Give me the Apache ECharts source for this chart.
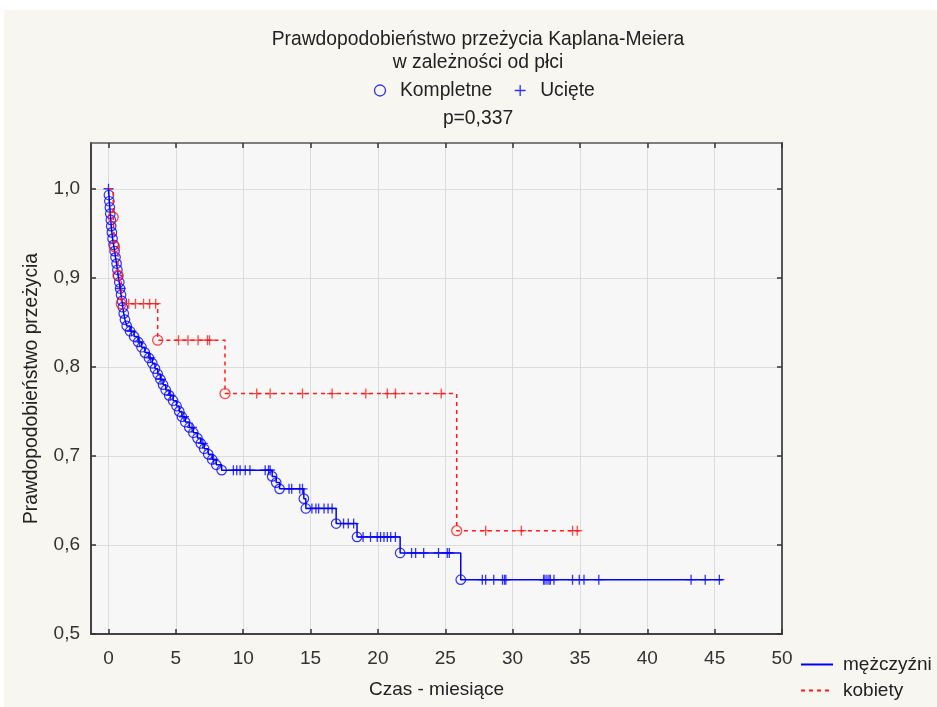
<!DOCTYPE html>
<html><head><meta charset="utf-8">
<script src="https://cdn.jsdelivr.net/npm/echarts@6/dist/echarts.min.js"></script>
<style>
html,body{margin:0;padding:0;background:#fff;}
#bg{position:absolute;left:4px;top:10px;width:933px;height:697px;background:#f7f6f0;}
#chart{position:absolute;left:0;top:0;width:937px;height:707px;}
</style>
</head><body><div id="bg"></div><div id="chart"></div>
<script>
// ---- data ----
const xTicks = [0, 5, 10, 15, 20, 25, 30, 35, 40, 45, 50];
const yTicks = [0.5, 0.6, 0.7, 0.8, 0.9, 1.0];

// mężczyźni: event (complete) times and survival after each event
const maleEventTimes = [0.03,0.06,0.1,0.13,0.17,0.2,0.25,0.3,0.38,0.45,0.52,0.6,0.66,0.72,0.8,0.86,0.93,1.0,1.06,1.13,1.22,1.35,1.6,1.9,2.2,2.45,2.7,3.0,3.25,3.45,3.65,3.85,4.05,4.25,4.5,4.8,5.05,5.25,5.45,5.7,6.0,6.3,6.6,6.85,7.1,7.4,7.7,8.0,8.4,12.15,12.45,12.7,14.5,14.65,16.9,18.45,21.65,26.15];
const maleEventSurv = [0.993,0.986,0.979,0.972,0.965,0.958,0.951,0.944,0.937,0.930,0.923,0.916,0.909,0.902,0.895,0.888,0.881,0.874,0.867,0.860,0.853,0.846,0.840,0.834,0.828,0.822,0.816,0.810,0.804,0.798,0.792,0.786,0.780,0.774,0.768,0.762,0.756,0.750,0.744,0.738,0.732,0.726,0.720,0.714,0.708,0.702,0.696,0.690,0.684,0.677,0.670,0.663,0.652,0.641,0.624,0.609,0.591,0.561];
const maleCensorTimes = [0.0,0.9,1.7,2.3,3.1,3.9,4.6,5.6,6.2,7.0,7.8,9.27,9.52,9.77,10.15,10.5,11.63,11.88,12.0,13.4,13.6,14.2,14.4,15.1,15.4,15.6,16.0,16.3,16.6,17.45,17.8,18.2,18.9,19.45,19.95,20.2,20.45,20.7,20.95,21.3,22.5,22.8,23.4,24.5,25.15,25.3,27.75,28.0,28.6,29.25,29.4,29.5,32.3,32.4,32.55,32.7,32.8,33.07,34.45,34.95,35.3,36.4,43.25,44.3,45.35];
const maleEndTime = 45.6;

// kobiety
const femaleEventTimes = [0.35,0.45,0.7,0.95,3.65,8.65,25.85];
const femaleEventSurv = [0.968,0.935,0.903,0.871,0.830,0.770,0.616];
const femaleCensorTimes = [1.5,2.0,2.6,3.05,3.5,5.2,5.9,6.65,7.35,7.5,11.0,12.0,14.4,16.6,19.1,20.7,21.3,24.7,28.0,30.65,34.45,34.8];
const femaleEndTime = 35.0;

const titleLines = ['Prawdopodobieństwo przeżycia Kaplana-Meiera', 'w zależności od płci'];
const pValueText = 'p=0,337';

// ---- helpers ----
function survAt(times, surv, t) {
  let s = 1;
  for (let i = 0; i < times.length; i++) if (times[i] <= t) s = surv[i];
  return s;
}
function stepLine(times, surv, end) {
  const d = [[0, 1]];
  times.forEach((t, i) => d.push([t, surv[i]]));
  d.push([end, surv[surv.length - 1]]);
  return d;
}
function events(times, surv) { return times.map((t, i) => [t, surv[i]]); }
function censored(ct, times, surv) { return ct.map(t => [t, survAt(times, surv, t)]); }

const BLUE = '#0000ff', RED = '#ff1a1a';
const FONT = '"Liberation Sans", Arial, sans-serif';
const plusPath = 'path://M0,5L10,5M5,0L5,10';
const fmt = v => (Math.round(v * 10) / 10).toFixed(1).replace('.', ',');

const chart = echarts.init(document.getElementById('chart'), null, {renderer: 'canvas'});
chart.setOption({
  animation: false,
  backgroundColor: 'transparent',
  textStyle: {fontFamily: FONT},
  title: [
    {text: titleLines.join('\n'), left: 478, textAlign: 'center', top: 28, padding: 0,
     textStyle: {fontSize: 19.3, fontWeight: 'normal', color: '#222', lineHeight: 23, fontFamily: FONT}},
    {text: pValueText, left: 478, textAlign: 'center', top: 107, padding: 0,
     textStyle: {fontSize: 19.3, fontWeight: 'normal', color: '#222', lineHeight: 23, fontFamily: FONT}}
  ],
  legend: [
    {data: [{name: 'Kompletne', icon: 'circle'}, {name: 'Ucięte', icon: plusPath}],
     left: 372, top: 81, padding: 0, itemWidth: 30, itemHeight: 11, itemGap: 20,
     itemStyle: {borderWidth: 1.3},
     textStyle: {fontSize: 19.3, color: '#222', fontFamily: FONT}},
    {data: ['mężczyźni', 'kobiety'], orient: 'vertical', left: 800, top: 655, padding: 0,
     itemWidth: 32, itemHeight: 14, itemGap: 7,
     itemStyle: {opacity: 0},
     textStyle: {fontSize: 19, color: '#222', fontFamily: FONT, padding: [0, 0, 0, 5]}}
  ],
  grid: {left: 91, right: 155, top: 143, bottom: 73, show: true, backgroundColor: '#f7f7f7', borderWidth: 0},
  xAxis: [
    {type: 'value', min: -1.3, max: 50, position: 'bottom',
     name: 'Czas - miesiące', nameLocation: 'middle', nameGap: 46,
     nameTextStyle: {fontSize: 19, color: '#222', fontFamily: FONT},
     axisLine: {show: true, onZero: false, lineStyle: {color: '#444', width: 2}},
     axisTick: {show: true, inside: true, length: 5, customValues: xTicks, lineStyle: {color: '#333', width: 1.5}},
     axisLabel: {customValues: xTicks, fontSize: 19, color: '#333', margin: 15, fontFamily: FONT, formatter: v => String(v)},
     splitLine: {show: true, lineStyle: {color: '#dcdcdc', width: 1}}},
    {type: 'value', min: -1.3, max: 50, position: 'top',
     axisLine: {show: true, onZero: false, lineStyle: {color: '#555', width: 1.5}},
     axisTick: {show: true, inside: true, length: 5, customValues: xTicks, lineStyle: {color: '#333', width: 1.5}},
     axisLabel: {show: false}, splitLine: {show: false}}
  ],
  yAxis: [
    {type: 'value', min: 0.5, max: 1.0514, position: 'left',
     name: 'Prawdopodobieństwo przeżycia', nameLocation: 'middle', nameGap: 50,
     nameTextStyle: {fontSize: 19.3, color: '#222', fontFamily: FONT},
     axisLine: {show: true, onZero: false, lineStyle: {color: '#444', width: 2}},
     axisTick: {show: true, inside: true, length: 5, customValues: yTicks, lineStyle: {color: '#333', width: 1.5}},
     axisLabel: {customValues: yTicks, fontSize: 19, color: '#333', margin: 11, fontFamily: FONT, formatter: fmt},
     splitLine: {show: true, lineStyle: {color: '#dcdcdc', width: 1}}},
    {type: 'value', min: 0.5, max: 1.0514, position: 'right',
     axisLine: {show: true, onZero: false, lineStyle: {color: '#555', width: 2}},
     axisTick: {show: true, inside: true, length: 5, customValues: yTicks, lineStyle: {color: '#333', width: 1.5}},
     axisLabel: {show: false}, splitLine: {show: false}}
  ],
  series: [
    {name: 'mężczyźni', type: 'line', step: 'end', symbol: 'none', z: 2,
     data: stepLine(maleEventTimes, maleEventSurv, maleEndTime),
     itemStyle: {color: BLUE}, lineStyle: {color: BLUE, width: 1.5}},
    {name: 'Kompletne', type: 'scatter', symbol: 'circle', symbolSize: 9.5, z: 3,
     data: events(maleEventTimes, maleEventSurv),
     itemStyle: {color: 'none', borderColor: BLUE, borderWidth: 1.2}},
    {name: 'Ucięte', type: 'scatter', symbol: plusPath, symbolSize: 10, z: 3,
     data: censored(maleCensorTimes, maleEventTimes, maleEventSurv),
     itemStyle: {color: 'none', borderColor: BLUE, borderWidth: 1.3}},
    {name: 'kobiety', type: 'line', step: 'end', symbol: 'none', z: 4,
     data: stepLine(femaleEventTimes, femaleEventSurv, femaleEndTime),
     itemStyle: {color: RED}, lineStyle: {color: RED, width: 1.5, type: [4, 4]}},
    {name: 'Kompletne', type: 'scatter', symbol: 'circle', symbolSize: 10, z: 5,
     data: events(femaleEventTimes, femaleEventSurv),
     itemStyle: {color: 'none', borderColor: RED, borderWidth: 1.3}},
    {name: 'Ucięte', type: 'scatter', symbol: plusPath, symbolSize: 10, z: 5,
     data: censored(femaleCensorTimes, femaleEventTimes, femaleEventSurv),
     itemStyle: {color: 'none', borderColor: RED, borderWidth: 1.3}}
  ]
});
</script></body></html>
